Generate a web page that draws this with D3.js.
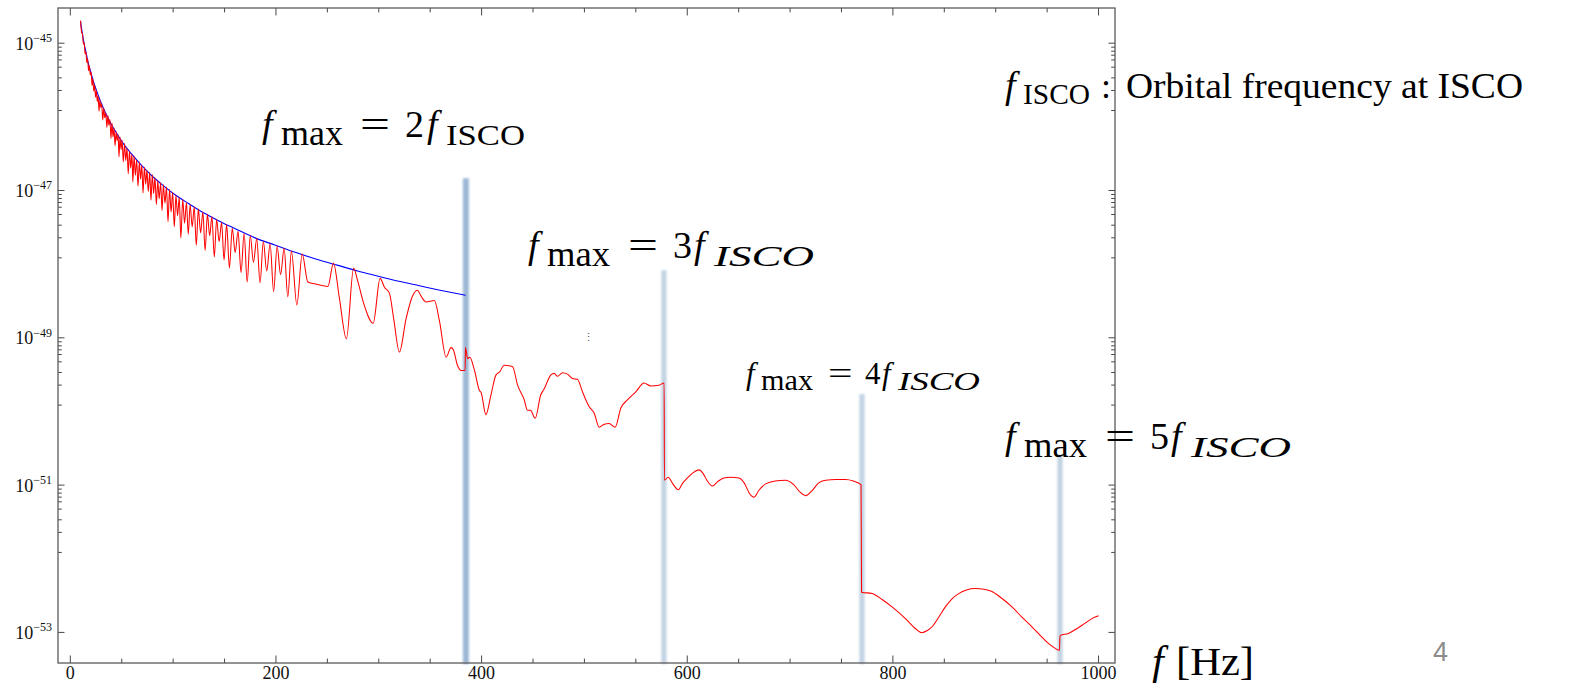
<!DOCTYPE html>
<html>
<head>
<meta charset="utf-8">
<script src="https://cdn.jsdelivr.net/npm/d3@7"></script>
<style>
body { margin:0; padding:0; background:#fff; }
svg  { display:block; }
</style>
</head>
<body>
<script>
var blueF = [10.4, 12, 14, 16, 18, 20, 23, 26, 30, 35, 40, 46, 52, 60, 70, 80, 90, 100, 115, 130,
             145, 160, 180, 200, 220, 240, 260, 280, 300, 320, 340, 360, 385];
var blueL = [-44.71, -44.86, -45.02, -45.15, -45.28, -45.38, -45.53, -45.65, -45.80, -45.96, -46.10,
             -46.24, -46.37, -46.51, -46.67, -46.81, -46.93, -47.04, -47.18, -47.31, -47.42, -47.52,
             -47.65, -47.75, -47.85, -47.94, -48.02, -48.10, -48.17, -48.24, -48.30, -48.36, -48.43];

var redF = [10.4, 11.5, 12.3, 13.2, 14.0, 14.8, 15.6, 16.5, 17.3, 18.2, 19.0, 19.9, 20.7, 21.6, 22.4,
            23.3, 24.1, 25.0, 25.8, 26.7, 27.5, 28.4, 29.2, 30.1, 31.0, 32.0, 33.0, 34.0, 35.0, 36.0,
            37.0, 38.0, 39.0, 40.0, 41.0, 42.0, 43.0, 44.0, 45.0, 46.0, 47.0, 47.8, 48.8, 49.8, 50.8,
            52.0, 53.2, 54.4, 55.6, 56.8, 58.0, 59.2, 60.4, 61.3, 62.5, 63.7, 65.0, 66.3, 67.6, 68.8,
            70.0, 71.2, 72.5, 73.8, 75.0, 76.3, 77.7, 78.9, 80.2, 81.5, 82.8, 84.2, 85.5, 86.9, 88.3,
            89.7, 91.0, 92.5, 94.0, 95.5, 97.0, 98.5, 100, 101.6, 103.2, 104.8, 106.4, 108.0, 109.8,
            111.6, 113.4, 115.2, 117.0, 119.0, 121.0, 123.0, 125.0, 127.2, 129.4, 131.6, 133.8, 136.0,
            138.2, 140.5, 142.8, 145.2, 147.6, 150.0, 152.5, 155.2, 158.0, 160.8, 163.6, 166.5, 169.5,
            172.5, 175.5, 178.6, 181.8, 185.0, 188.2, 191.5, 194.8, 198.2, 201.6, 205.0, 208.4, 212.0,
            215.5, 220.8, 226.0, 231.5, 240, 251, 256.4, 262, 269, 276, 279.7, 286, 295, 301.8, 306,
            310.8, 315, 320.5, 327, 333, 338, 342, 346.5, 354.5, 359.4, 366, 370.7, 373, 377, 380.5,
            384.5, 384.7, 387, 389, 393.4, 398.3, 400, 404.7, 409.6, 414.5, 418, 422.5, 430.6, 435.5,
            442, 445, 448, 452.6, 458, 461, 467.9, 471, 474.3, 479.2, 484, 488.9, 493.7, 498.6, 505,
            510, 514.8, 519.7, 524.5, 530.4, 535.9, 542.3, 550.4, 558.5, 565, 573, 578, 578.3, 582,
            586, 591.8, 596, 600.6, 606, 612, 616, 620, 625, 630, 636, 643, 650.8, 656, 661, 665.4,
            670, 676.7, 686, 696, 704, 710, 715.6, 722, 728, 735, 745, 754.4, 762, 769.5, 770, 780.3,
            790, 799.7, 812.7, 822, 828.2, 834, 838.6, 845, 851.5, 858, 864.5, 872, 880.7, 889, 896.8,
            906, 916.3, 926, 935.7, 944, 952, 958, 962.5, 963, 971.3, 980, 987.5, 994, 1000.5];
var redL = [-44.70, -44.86, -44.88, -45.02, -45.00, -45.15, -45.12, -45.27, -45.22, -45.38, -45.31,
            -45.44, -45.40, -45.58, -45.49, -45.66, -45.57, -45.74, -45.65, -45.80, -45.72, -45.93,
            -45.78, -45.88, -45.83, -46.05, -45.89, -46.02, -45.95, -46.15, -45.99, -46.12, -46.04,
            -46.30, -46.09, -46.28, -46.16, -46.40, -46.21, -46.33, -46.25, -46.55, -46.28, -46.45,
            -46.32, -46.62, -46.37, -46.60, -46.43, -46.78, -46.47, -46.70, -46.51, -46.89, -46.54,
            -46.80, -46.59, -46.95, -46.62, -46.85, -46.66, -47.04, -46.69, -46.92, -46.73, -47.02,
            -46.76, -47.14, -46.79, -47.05, -46.83, -47.20, -46.87, -47.12, -46.90, -47.28, -46.93,
            -47.18, -46.96, -47.43, -46.99, -47.30, -47.03, -47.50, -47.07, -47.35, -47.10, -47.65,
            -47.13, -47.45, -47.17, -47.60, -47.20, -47.50, -47.23, -47.75, -47.26, -47.58, -47.30,
            -47.82, -47.33, -47.62, -47.36, -47.91, -47.40, -47.70, -47.44, -47.95, -47.47, -48.06,
            -47.52, -47.85, -47.56, -48.12, -47.59, -48.25, -47.62, -47.98, -47.66, -48.26, -47.70,
            -48.10, -47.73, -48.38, -47.76, -48.15, -47.79, -48.45, -47.83, -48.56, -47.87, -48.25,
            -48.28, -48.31, -47.99, -48.45, -49.02, -48.06, -48.22, -48.55, -48.81, -48.20, -48.32,
            -48.40, -48.75, -49.20, -48.75, -48.45, -48.36, -48.45, -48.52, -48.50, -48.77, -49.27,
            -49.14, -49.17, -49.38, -49.45, -49.45, -49.14, -49.29, -49.27, -49.44, -49.72, -49.75,
            -50.05, -49.78, -49.51, -49.47, -49.38, -49.40, -49.65, -49.85, -49.99, -49.99, -50.10,
            -49.78, -49.71, -49.51, -49.49, -49.53, -49.48, -49.50, -49.56, -49.57, -49.74, -49.94,
            -50.03, -50.22, -50.18, -50.17, -50.22, -49.96, -49.85, -49.74, -49.62, -49.66, -49.65,
            -49.62, -50.94, -50.90, -50.98, -51.07, -50.98, -50.91, -50.84, -50.80, -50.85, -50.95,
            -51.02, -50.96, -50.91, -50.90, -50.91, -50.98, -51.12, -51.17, -51.08, -50.99, -50.95,
            -50.94, -51.00, -51.10, -51.15, -51.08, -50.98, -50.94, -50.93, -50.93, -50.95, -51.00,
            -52.46, -52.48, -52.56, -52.66, -52.82, -52.95, -53.01, -52.98, -52.93, -52.80, -52.66,
            -52.55, -52.48, -52.43, -52.41, -52.42, -52.45, -52.54, -52.66, -52.80, -52.93, -53.05,
            -53.16, -53.22, -53.25, -53.05, -53.02, -52.95, -52.88, -52.82, -52.78];

var fIsco     = 192.6;                    // orbital frequency at ISCO
var multiples = [2, 3, 4, 5];             // f_max = n f_ISCO marker lines
var bandTopL  = [-46.84, -48.09, -49.77, -50.60];

var xMajor = [0, 200, 400, 600, 800, 1000];
var xMinor = [50, 100, 150, 250, 300, 350, 450, 500, 550, 650, 700, 750, 850, 900, 950];
var yMajorExp  = [-45, -47, -49, -51, -53];
var yMinorOff  = [0.054, 0.109, 0.163, 0.227, 0.326, 0.471, 0.642, 0.914];   // decades below a labelled tick

var W = 1576, H = 683;
var svg = d3.select("body").append("svg").attr("width", W).attr("height", H)
            .style("font-family", "'Liberation Serif', 'Times New Roman', serif");

var x = d3.scaleLinear().domain([-11.5, 1016.5]).range([58, 1115]);
var y = d3.scaleLog().domain([Math.pow(10, -53.422), Math.pow(10, -44.529)]).range([663, 8]);
var yE = function (e) { return y(Math.pow(10, e)); };

// blur for the shaded marker bands
var defs = svg.append("defs");
defs.append("filter").attr("id", "soft").attr("x", "-100%").attr("width", "300%")
    .append("feGaussianBlur").attr("stdDeviation", 0.9);

// marker bands at n * f_ISCO
svg.append("g").selectAll("rect").data(multiples).join("rect")
   .attr("x", function (n, i) { return x(n * fIsco) - (i == 0 ? 3 : 2.6); })
   .attr("width", function (n, i) { return i == 0 ? 6 : 5.2; })
   .attr("y", function (n, i) { return yE(bandTopL[i]); })
   .attr("height", function (n, i) { return 664 - yE(bandTopL[i]); })
   .attr("fill", function (n, i) { return i == 0 ? "#9cb8d6" : "#c2d3e4"; })
   .attr("filter", "url(#soft)");

// curves
var line = d3.line().x(function (d) { return x(d[0]); })
                    .y(function (d) { return yE(d[1]); })
                    .curve(d3.curveMonotoneX);

var blue = blueF.map(function (f, i) { return [f, blueL[i]]; });
var red  = redF.map(function (f, i) { return [f, redL[i]]; });

svg.append("path").datum(blue).attr("d", line)
   .attr("fill", "none").attr("stroke", "#0000ff").attr("stroke-width", 1.1);
svg.append("path").datum(red).attr("d", line)
   .attr("fill", "none").attr("stroke", "#ff0000").attr("stroke-width", 1.05);

// frame + ticks (Mathematica style, ticks pointing inward on all sides)
var yMinorVals = [];
yMajorExp.slice(0, 4).forEach(function (e) {
  yMinorOff.forEach(function (o) { yMinorVals.push(Math.pow(10, e - o)); });
});
var yMajorVals = yMajorExp.map(function (e) { return Math.pow(10, e); });

function axisG(axis, tx, ty) {
  var g = svg.append("g").attr("transform", "translate(" + tx + "," + ty + ")").call(axis);
  g.select(".domain").remove();
  g.selectAll(".tick line").attr("stroke", "#333").attr("stroke-width", 0.9);
  return g;
}
var xb = axisG(d3.axisBottom(x).tickValues(xMajor).tickFormat(d3.format("d"))
                 .tickSizeInner(-7.5).tickSizeOuter(0).tickPadding(3), 0, 663);
xb.selectAll("text").attr("font-size", 18).attr("fill", "#111")
  .attr("font-family", "'Liberation Serif', serif");
axisG(d3.axisBottom(x).tickValues(xMinor).tickSizeInner(-4.4).tickSizeOuter(0).tickFormat(""), 0, 663);
axisG(d3.axisTop(x).tickValues(xMajor).tickSizeInner(-7.5).tickSizeOuter(0).tickFormat(""), 0, 8);
axisG(d3.axisTop(x).tickValues(xMinor).tickSizeInner(-4.4).tickSizeOuter(0).tickFormat(""), 0, 8);
axisG(d3.axisLeft(y).tickValues(yMajorVals).tickSizeInner(-6.5).tickSizeOuter(0).tickFormat(""), 58, 0);
axisG(d3.axisLeft(y).tickValues(yMinorVals).tickSizeInner(-3.8).tickSizeOuter(0).tickFormat(""), 58, 0);
axisG(d3.axisRight(y).tickValues(yMajorVals).tickSizeInner(-6.5).tickSizeOuter(0).tickFormat(""), 1115, 0);
axisG(d3.axisRight(y).tickValues(yMinorVals).tickSizeInner(-3.8).tickSizeOuter(0).tickFormat(""), 1115, 0);

svg.append("rect").attr("x", 58).attr("y", 8).attr("width", 1115 - 58).attr("height", 663 - 8)
   .attr("fill", "none").attr("stroke", "#5a5a5a").attr("stroke-width", 1.3);

// y labels 10^e
var yl = svg.append("g").selectAll("text").data(yMajorExp).join("text")
   .attr("x", 52).attr("y", function (e) { return yE(e) + 7; })
   .attr("text-anchor", "end").attr("fill", "#111");
yl.append("tspan").attr("font-size", 18).text("10");
yl.append("tspan").attr("font-size", 12).attr("dy", -7.5)
  .text(function (e) { return "\u2212" + Math.abs(e); });

// annotations (LaTeX-like math text)
function mathText(parts) {
  parts.forEach(function (p) {
    var t = svg.append("text").attr("x", p.x).attr("y", p.y)
       .attr("font-size", p.s).attr("fill", "#000")
       .attr("font-style", p.i ? "italic" : "normal").text(p.t);
    if (p.w) t.attr("textLength", p.w).attr("lengthAdjust", "spacingAndGlyphs");
  });
}
mathText([
  {t:"f", x:262, y:137, s:38, i:1}, {t:"max", x:281, y:145, s:36, w:62},
  {t:"=", x:360, y:137, s:38, w:30}, {t:"2", x:405, y:137, s:38},
  {t:"f", x:427, y:137, s:38, i:1}, {t:"ISCO", x:446, y:145, s:30, w:79}
]);
mathText([
  {t:"f", x:528, y:257.5, s:38, i:1}, {t:"max", x:547, y:265.5, s:36, w:63},
  {t:"=", x:628, y:257.5, s:38, w:30}, {t:"3", x:673, y:257.5, s:38},
  {t:"f", x:694, y:257.5, s:38, i:1}, {t:"ISCO", x:714, y:265.5, s:30, i:1, w:100}
]);
mathText([
  {t:"f", x:746, y:383.5, s:31, i:1}, {t:"max", x:761, y:390, s:29.5, w:52},
  {t:"=", x:828, y:383.5, s:31, w:24.5}, {t:"4", x:865, y:383.5, s:31},
  {t:"f", x:882, y:383.5, s:31, i:1}, {t:"ISCO", x:898, y:390, s:24.5, i:1, w:82}
]);
mathText([
  {t:"f", x:1005, y:448.5, s:38, i:1}, {t:"max", x:1024, y:456.5, s:36, w:63},
  {t:"=", x:1105, y:448.5, s:38, w:30}, {t:"5", x:1150, y:448.5, s:38},
  {t:"f", x:1171, y:448.5, s:38, i:1}, {t:"ISCO", x:1191, y:456.5, s:30, i:1, w:100}
]);
mathText([
  {t:"f", x:1005, y:98, s:38, i:1}, {t:"ISCO", x:1023, y:104, s:29, w:67},
  {t:":", x:1101, y:98, s:36}, {t:"Orbital frequency at ISCO", x:1126, y:98, s:35, w:397}
]);
mathText([
  {t:"f", x:1152, y:675, s:42, i:1}, {t:"[Hz]", x:1176, y:675, s:40, w:78}
]);

svg.append("text").attr("x", 588).attr("y", 341).attr("font-size", 11).attr("fill", "#555")
   .attr("text-anchor", "middle").text("\u22EE");

// slide number
svg.append("text").attr("x", 1433).attr("y", 661).attr("font-size", 27)
   .attr("font-family", "'Liberation Sans', Arial, sans-serif").attr("fill", "#8c8c8c").text("4");
</script>
</body>
</html>
